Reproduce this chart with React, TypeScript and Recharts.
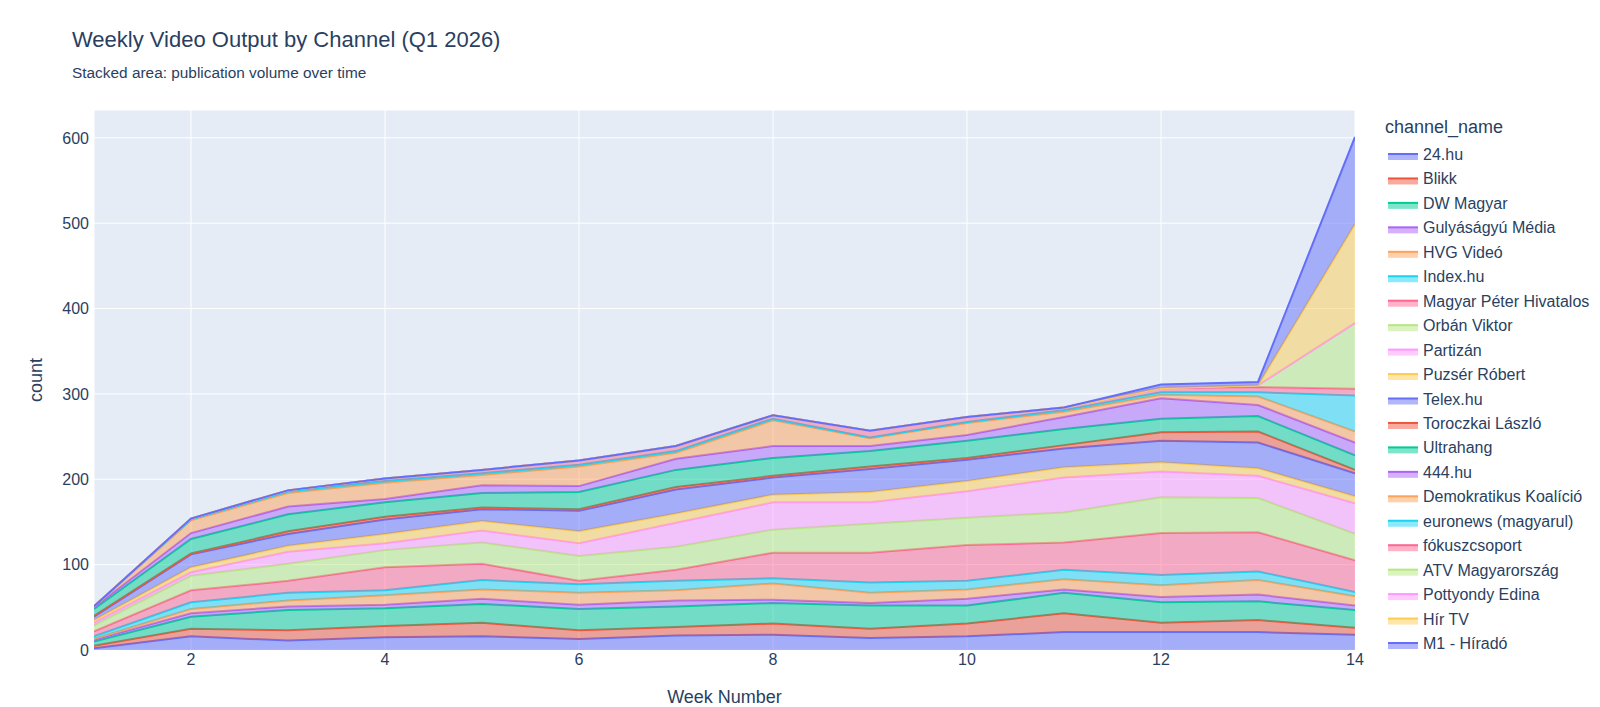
import React from 'react';
import { AreaChart, Area, XAxis, YAxis, CartesianGrid } from 'recharts';

const weeks = [1, 2, 3, 4, 5, 6, 7, 8, 9, 10, 11, 12, 13, 14];

const channelNames = [
  '24.hu', 'Blikk', 'DW Magyar', 'Gulyáságyú Média', 'HVG Videó', 'Index.hu',
  'Magyar Péter Hivatalos', 'Orbán Viktor', 'Partizán', 'Puzsér Róbert', 'Telex.hu',
  'Toroczkai László', 'Ultrahang', '444.hu', 'Demokratikus Koalíció',
  'euronews (magyarul)', 'fókuszcsoport', 'ATV Magyarország', 'Pottyondy Edina',
  'Hír TV', 'M1 - Híradó',
];

const v24hu = [2, 16, 11, 15, 16, 13, 17, 18, 14, 16, 21, 21, 21, 18];
const vBlikk = [3, 9, 12, 13, 16, 10, 10, 13, 11, 15, 22, 11, 14, 8];
const vDwMagyar = [5, 14, 24, 21, 22, 25, 24, 24, 27, 21, 24, 24, 22, 21];
const vGulyasagyu = [2, 4, 4, 4, 6, 5, 7, 4, 3, 8, 4, 6, 8, 5];
const vHvgVideo = [1, 5, 7, 11, 11, 14, 12, 19, 12, 11, 12, 14, 17, 11];
const vIndexHu = [3, 8, 9, 6, 11, 10, 11, 6, 12, 10, 11, 12, 10, 5];
const vMagyarPeter = [6, 14, 14, 27, 19, 4, 13, 30, 35, 42, 32, 49, 46, 37];
const vOrbanViktor = [7, 17, 20, 20, 25, 29, 27, 27, 34, 32, 35, 42, 40, 31];
const vPartizan = [3, 4, 14, 8, 14, 15, 28, 32, 25, 31, 41, 30, 26, 36];
const vPuzserRobert = [3, 6, 7, 11, 11, 14, 11, 9, 12, 12, 12, 11, 9, 8];
const vTelexHu = [4, 15, 14, 17, 14, 24, 28, 20, 27, 25, 22, 25, 30, 27];
const vToroczkai = [1, 1, 3, 3, 2, 2, 3, 2, 3, 2, 4, 10, 13, 4];
const vUltrahang = [8, 17, 20, 17, 17, 20, 20, 21, 18, 20, 19, 16, 18, 17];
const v444hu = [2, 7, 9, 4, 9, 7, 13, 14, 6, 7, 14, 24, 13, 15];
const vDemKoalicio = [1, 15, 16, 19, 12, 23, 7, 30, 9, 14, 6, 4, 10, 13];
const vEuronews = [0, 1, 2, 2, 2, 2, 2, 2, 1, 1, 2, 3, 5, 42];
const vFokuszcsoport = [0, 1, 1, 3, 4, 5, 6, 4, 8, 6, 3, 5, 6, 8];
const vAtv = [0, 0, 0, 0, 0, 0, 0, 0, 0, 0, 0, 0, 2, 77];
const vPottyondy = [0, 0, 0, 0, 0, 0, 0, 0, 0, 0, 0, 0, 0, 0];
const vHirTv = [0, 0, 0, 0, 0, 0, 0, 0, 0, 0, 0, 0, 0, 116];
const vM1Hirado = [0, 0, 0, 0, 0, 0, 0, 0, 0, 0, 0, 4, 4, 102];

const seriesValues = [
  v24hu, vBlikk, vDwMagyar, vGulyasagyu, vHvgVideo, vIndexHu, vMagyarPeter,
  vOrbanViktor, vPartizan, vPuzserRobert, vTelexHu, vToroczkai, vUltrahang,
  v444hu, vDemKoalicio, vEuronews, vFokuszcsoport, vAtv, vPottyondy, vHirTv, vM1Hirado,
];

const palette = ['#636efa', '#EF553B', '#00cc96', '#ab63fa', '#FFA15A', '#19d3f3', '#FF6692', '#B6E880', '#FF97FF', '#FECB52'];

const xTicks = [2, 4, 6, 8, 10, 12, 14];
const yTicks = [0, 100, 200, 300, 400, 500, 600];

const data = weeks.map((w, i) => {
  const row: Record<string, number> = { week: w };
  seriesValues.forEach((arr, k) => {
    row['s' + k] = arr[i];
  });
  return row;
});

const FONT = '"Liberation Sans", Arial, Helvetica, sans-serif';
const TXT = '#2a3f5f';

const W = 1600;
const H = 707;
const PLOT_LEFT = 94;
const PLOT_RIGHT = 1355;
const PLOT_TOP = 110;
const PLOT_BOTTOM = 650;

const LEG_X = 1383;
const LEG_ITEM_Y0 = 154;
const LEG_STEP = 24.45;

export default function App() {
  return (
    <div style={{ position: 'absolute', left: 0, top: 0, width: W, height: H, background: '#fff' }}>
      <AreaChart
        width={W}
        height={H}
        data={data}
        margin={{ top: PLOT_TOP, right: W - PLOT_RIGHT, bottom: 0, left: 0 }}
      >
        <CartesianGrid fill="#E5ECF6" stroke="#ffffff" strokeWidth={1} />
        <XAxis
          dataKey="week"
          type="number"
          domain={[1, 14]}
          ticks={xTicks}
          allowDataOverflow
          axisLine={false}
          tickLine={false}
          tickSize={0}
          tickMargin={4}
          height={H - PLOT_BOTTOM}
          tick={{ fill: TXT, fontSize: 16, fontFamily: FONT }}
        />
        <YAxis
          type="number"
          domain={[0, 632.6]}
          ticks={yTicks}
          allowDataOverflow
          axisLine={false}
          tickLine={false}
          tickSize={0}
          tickMargin={5}
          width={PLOT_LEFT}
          tick={{ fill: TXT, fontSize: 16, fontFamily: FONT }}
        />
        {channelNames.map((name, k) => (
          <Area
            key={name}
            name={name}
            dataKey={'s' + k}
            stackId="1"
            type="linear"
            stroke={palette[k % 10]}
            strokeWidth={2}
            fill={palette[k % 10]}
            fillOpacity={0.5}
            dot={false}
            activeDot={false}
            isAnimationActive={false}
          />
        ))}
      </AreaChart>
      <svg
        width={W}
        height={H}
        style={{ position: 'absolute', left: 0, top: 0, pointerEvents: 'none' }}
        fontFamily={FONT}
      >
        <text x={72} y={46.5} fontSize={22} fill={TXT}>Weekly Video Output by Channel (Q1 2026)</text>
        <text x={72} y={78} fontSize={15.4} fill={TXT}>Stacked area: publication volume over time</text>
        <text x={(PLOT_LEFT + PLOT_RIGHT) / 2} y={703} fontSize={18} fill={TXT} textAnchor="middle">Week Number</text>
        <text transform={`translate(42, ${(PLOT_TOP + PLOT_BOTTOM) / 2}) rotate(-90)`} fontSize={18} fill={TXT} textAnchor="middle">count</text>
        <text x={LEG_X + 2} y={133} fontSize={18} fill={TXT}>channel_name</text>
        {channelNames.map((name, k) => {
          const cy = LEG_ITEM_Y0 + k * LEG_STEP;
          const c = palette[k % 10];
          return (
            <g key={name}>
              <rect x={LEG_X + 5} y={cy} width={30} height={6} fill={c} fillOpacity={0.5} />
              <line x1={LEG_X + 5} x2={LEG_X + 35} y1={cy} y2={cy} stroke={c} strokeWidth={2} />
              <text x={LEG_X + 40} y={cy + 6} fontSize={16} fill={TXT}>{name}</text>
            </g>
          );
        })}
      </svg>
    </div>
  );
}
